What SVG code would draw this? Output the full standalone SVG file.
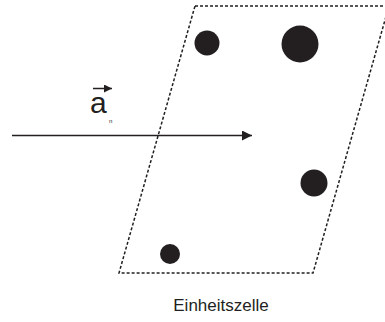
<svg xmlns="http://www.w3.org/2000/svg" width="385" height="322" viewBox="0 0 385 322">
<style>
.cell{fill:none;stroke:#231f20;stroke-width:1.5;stroke-dasharray:3 2}
.atom{fill:#231f20}
.lbl{font-family:"Liberation Sans",Arial,sans-serif;fill:#231f20}
.ln{stroke:#231f20;stroke-width:1.5;fill:none}
</style>
<defs>
<marker id="ah" viewBox="0 0 10 10" refX="10" refY="5" markerWidth="8" markerHeight="8" markerUnits="userSpaceOnUse" orient="auto">
<path d="M0,0 L10,5 L0,10 Z" fill="#231f20"/>
</marker>
<marker id="ah2" viewBox="0 0 10 10" refX="10" refY="5" markerWidth="12" markerHeight="10" markerUnits="userSpaceOnUse" orient="auto">
<path d="M0,0 L10,5 L0,10 Z" fill="#231f20"/>
</marker>
</defs>
<g id="cell">
<polygon class="cell" points="195,6 389,6 313,273 119,273"/>
</g>
<g id="atoms">
<circle class="atom" cx="207" cy="43" r="12.5"/>
<circle class="atom" cx="300" cy="44" r="18.5"/>
<circle class="atom" cx="314" cy="183" r="13.5"/>
<circle class="atom" cx="170" cy="254" r="10"/>
</g>
<g id="connectors">
<line class="ln" x1="12" y1="135.5" x2="252" y2="135.5" marker-end="url(#ah2)"/>
<line class="ln" x1="93" y1="88.5" x2="112" y2="88.5" stroke-width="2" marker-end="url(#ah)"/>
</g>
<g id="labels">
<text class="lbl" x="90" y="113" font-size="30">a</text>
<text class="lbl" x="109" y="123" font-size="6">n</text>
<text class="lbl" x="221" y="311" font-size="17" text-anchor="middle">Einheitszelle</text>
</g>
</svg>
